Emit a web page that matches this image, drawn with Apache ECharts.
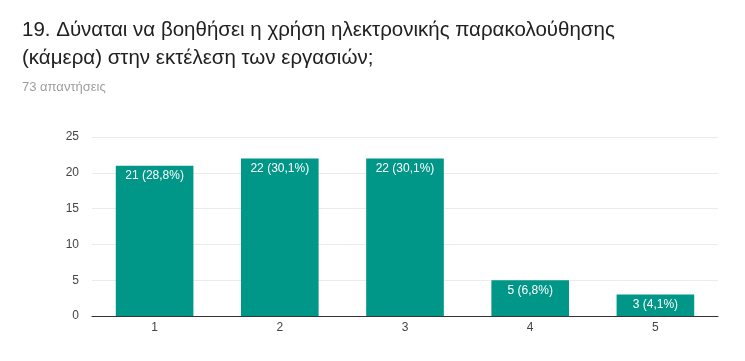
<!DOCTYPE html>
<html><head><meta charset="utf-8">
<script src="https://cdn.jsdelivr.net/npm/echarts@6/dist/echarts.min.js"></script>
<style>html,body{margin:0;padding:0;background:#fff}#c{width:745px;height:361px}</style>
</head><body><div id="c"></div>
<script>
const categories = ['1', '2', '3', '4', '5'];
const counts = [21, 22, 22, 5, 3];
const percents = ['28,8%', '30,1%', '30,1%', '6,8%', '4,1%'];
const yTicks = [0, 5, 10, 15, 20, 25];
const titleText = '19. Δύναται να βοηθήσει η χρήση ηλεκτρονικής παρακολούθησης\n(κάμερα) στην εκτέλεση των εργασιών;';
const subText = '73 απαντήσεις';

const chart = echarts.init(document.getElementById('c'));
chart.setOption({
  animation: false,
  title: {
    text: titleText,
    subtext: subText,
    left: 17, top: 16, padding: [0, 5],
    itemGap: 8,
    textStyle: {fontFamily: 'Liberation Sans, Arial', fontSize: 20.5, fontWeight: 'normal', color: '#212121', lineHeight: 28},
    subtextStyle: {fontFamily: 'Liberation Sans, Arial', fontSize: 13, color: '#9e9e9e', lineHeight: 15}
  },
  grid: {left: 92, right: 27, top: 137, bottom: 45, containLabel: false},
  xAxis: {
    type: 'category', data: categories,
    axisLine: {lineStyle: {color: '#333', width: 1}},
    axisTick: {show: false},
    axisLabel: {color: '#444', fontSize: 12, fontFamily: 'Liberation Sans, Arial', margin: 6}
  },
  yAxis: {
    type: 'value', min: yTicks[0], max: yTicks[yTicks.length - 1], interval: 5,
    axisLine: {show: false}, axisTick: {show: false},
    splitLine: {lineStyle: {color: '#ebebeb'}},
    axisLabel: {color: '#444', fontSize: 12, fontFamily: 'Liberation Sans, Arial', margin: 13}
  },
  series: [{
    type: 'bar', data: counts, barWidth: '62%',
    itemStyle: {color: '#009688'},
    label: {
      show: true, position: 'insideTop', distance: 4,
      color: '#fff', fontSize: 12, fontFamily: 'Liberation Sans, Arial',
      formatter: p => p.value + ' (' + percents[p.dataIndex] + ')'
    }
  }]
});
</script></body></html>
